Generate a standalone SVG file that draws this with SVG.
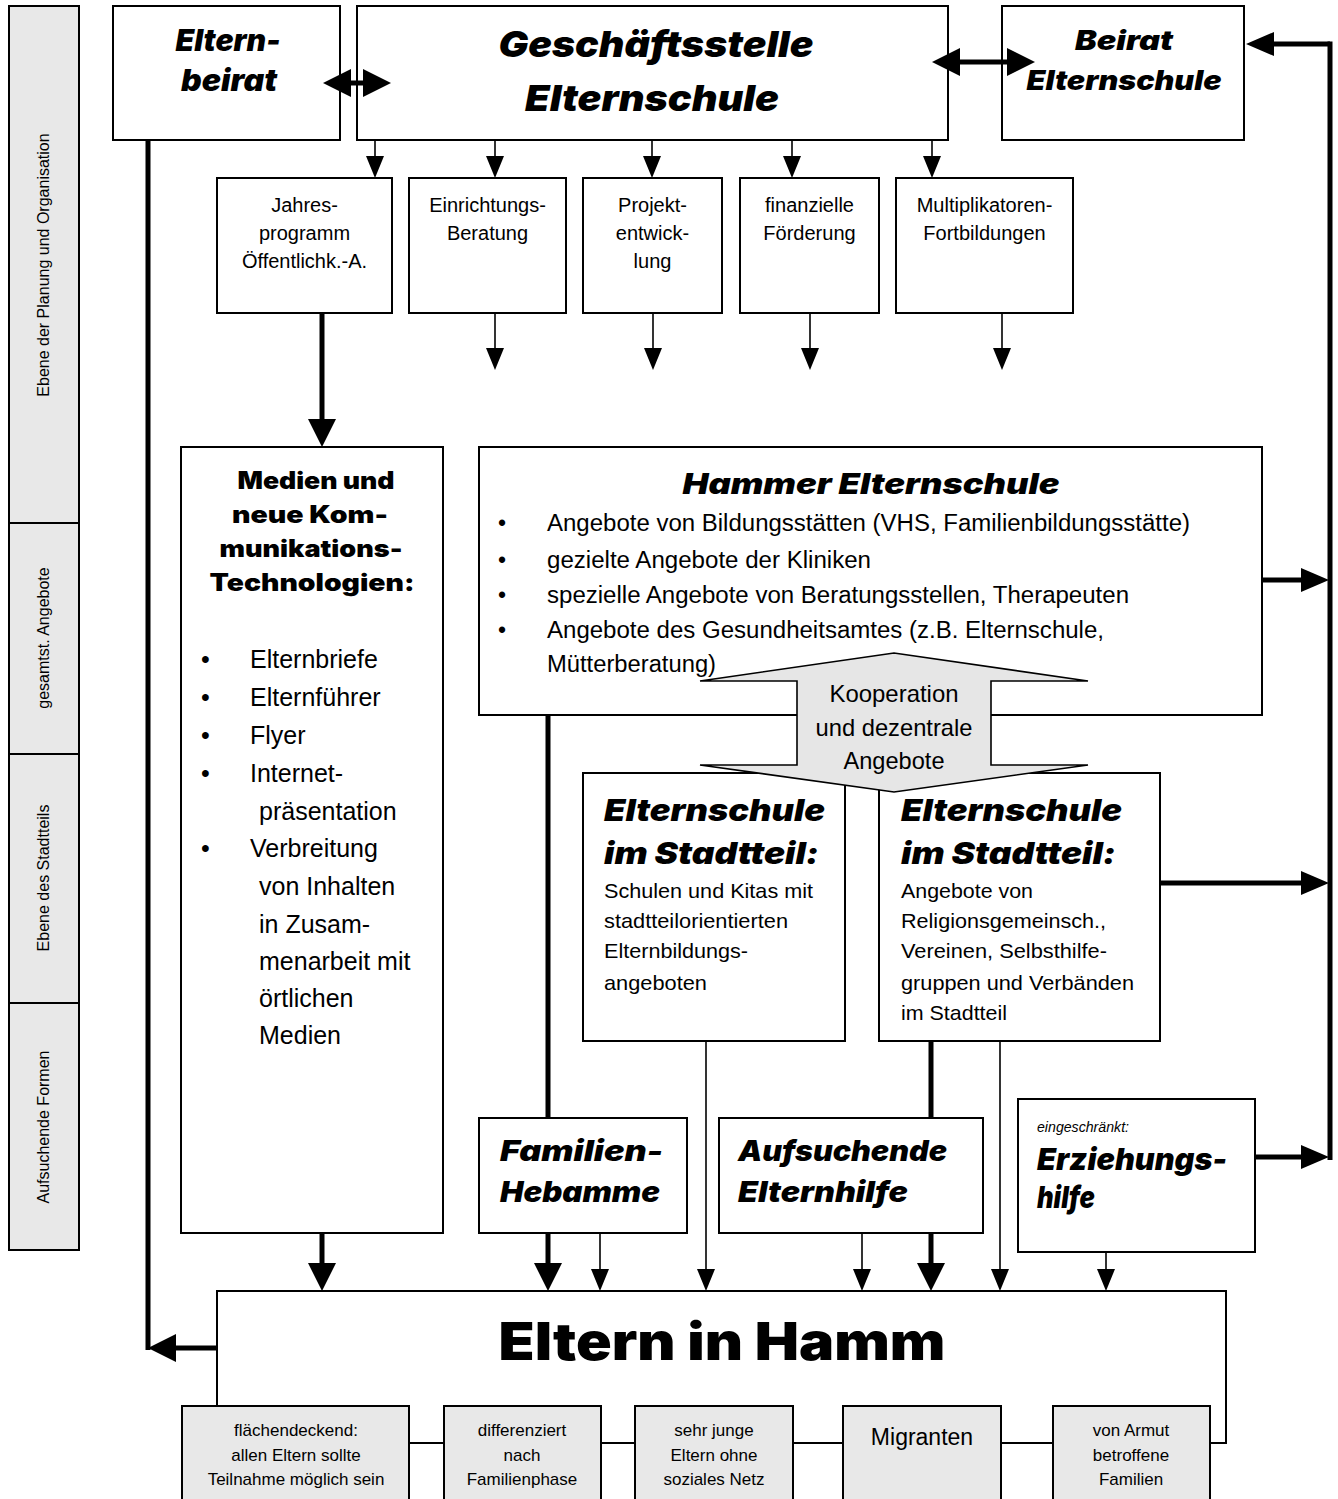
<svg xmlns="http://www.w3.org/2000/svg" width="1338" height="1499" viewBox="0 0 1338 1499">
<style>
.box{fill:#fff;stroke:#000;stroke-width:2}
.gbox{fill:#e8e8e8;stroke:#000;stroke-width:2}
.thin{stroke:#000;stroke-width:1.6;fill:none}
.thick{stroke:#000;stroke-width:5;fill:none}
.reg{font-family:"Liberation Sans",Arial,sans-serif;fill:#000}
.blk{font-family:Inter,Lato,"DejaVu Sans",sans-serif;font-weight:900;fill:#000}
.bi{font-family:Inter,Lato,"DejaVu Sans",sans-serif;font-weight:900;font-style:italic;fill:#000}
.mid{text-anchor:middle}
</style>
<defs>
<marker id="ah" markerUnits="userSpaceOnUse" markerWidth="22" markerHeight="18" refX="0" refY="9" orient="auto"><path d="M0,0 L22,9 L0,18 z" fill="#000"/></marker>
<marker id="AH" markerUnits="userSpaceOnUse" markerWidth="28" markerHeight="28" refX="0" refY="14" orient="auto-start-reverse"><path d="M0,0 L28,14 L0,28 z" fill="#000"/></marker>
<marker id="AH2" markerUnits="userSpaceOnUse" markerWidth="28" markerHeight="24" refX="0" refY="12" orient="auto-start-reverse"><path d="M0,0 L28,12 L0,24 z" fill="#000"/></marker>
</defs>

<g id="sidebar">
<rect class="gbox" x="9" y="6" width="70" height="517"/>
<rect class="gbox" x="9" y="523" width="70" height="231"/>
<rect class="gbox" x="9" y="754" width="70" height="249"/>
<rect class="gbox" x="9" y="1003" width="70" height="247"/>
<text class="reg mid" font-size="16" transform="translate(49,265) rotate(-90)">Ebene der Planung und Organisation</text>
<text class="reg mid" font-size="16" transform="translate(49,638) rotate(-90)">gesamtst. Angebote</text>
<text class="reg mid" font-size="16" transform="translate(49,878) rotate(-90)">Ebene des Stadtteils</text>
<text class="reg mid" font-size="16" transform="translate(49,1127) rotate(-90)">Aufsuchende Formen</text>
</g>

<g id="elternbeirat">
<rect class="box" x="113" y="6" width="227" height="134"/>
<text class="bi mid" font-size="30" x="228" y="51" textLength="105" lengthAdjust="spacingAndGlyphs">Eltern-</text>
<text class="bi mid" font-size="30" x="229" y="91" textLength="96" lengthAdjust="spacingAndGlyphs">beirat</text>
</g>

<g id="geschaeftsstelle">
<rect class="box" x="357" y="6" width="591" height="134"/>
<text class="bi mid" font-size="36" x="656" y="57" textLength="315" lengthAdjust="spacingAndGlyphs">Geschäftsstelle</text>
<text class="bi mid" font-size="36" x="652" y="111" textLength="254" lengthAdjust="spacingAndGlyphs">Elternschule</text>
</g>

<g id="beirat">
<rect class="box" x="1002" y="6" width="242" height="134"/>
<text class="bi mid" font-size="27" x="1124" y="50" textLength="98" lengthAdjust="spacingAndGlyphs">Beirat</text>
<text class="bi mid" font-size="27" x="1124" y="90" textLength="195" lengthAdjust="spacingAndGlyphs">Elternschule</text>
</g>

<g id="jahresprogramm">
<rect class="box" x="217" y="178" width="175" height="135"/>
<text class="reg mid" font-size="20" x="304.5" y="212">Jahres-</text>
<text class="reg mid" font-size="20" x="304.5" y="240">programm</text>
<text class="reg mid" font-size="20" x="304.5" y="268">Öffentlichk.-A.</text>
</g>
<g id="einrichtungsberatung">
<rect class="box" x="409" y="178" width="157" height="135"/>
<text class="reg mid" font-size="20" x="487.5" y="212">Einrichtungs-</text>
<text class="reg mid" font-size="20" x="487.5" y="240">Beratung</text>
</g>
<g id="projektentwicklung">
<rect class="box" x="583" y="178" width="139" height="135"/>
<text class="reg mid" font-size="20" x="652.5" y="212">Projekt-</text>
<text class="reg mid" font-size="20" x="652.5" y="240">entwick-</text>
<text class="reg mid" font-size="20" x="652.5" y="268">lung</text>
</g>
<g id="foerderung">
<rect class="box" x="740" y="178" width="139" height="135"/>
<text class="reg mid" font-size="20" x="809.5" y="212">finanzielle</text>
<text class="reg mid" font-size="20" x="809.5" y="240">Förderung</text>
</g>
<g id="fortbildungen">
<rect class="box" x="896" y="178" width="177" height="135"/>
<text class="reg mid" font-size="20" x="984.5" y="212">Multiplikatoren-</text>
<text class="reg mid" font-size="20" x="984.5" y="240">Fortbildungen</text>
</g>

<g id="medien">
<rect class="box" x="181" y="447" width="262" height="786"/>
<text class="blk mid" font-size="24" x="316" y="489" textLength="157" lengthAdjust="spacingAndGlyphs">Medien und</text>
<text class="blk mid" font-size="24" x="310" y="523" textLength="156" lengthAdjust="spacingAndGlyphs">neue Kom-</text>
<text class="blk mid" font-size="24" x="311" y="557" textLength="183" lengthAdjust="spacingAndGlyphs">munikations-</text>
<text class="blk mid" font-size="24" x="312" y="591" textLength="205" lengthAdjust="spacingAndGlyphs">Technologien:</text>
<g class="reg" font-size="25">
<text x="201" y="668">•</text><text x="250" y="668">Elternbriefe</text>
<text x="201" y="706">•</text><text x="250" y="706">Elternführer</text>
<text x="201" y="744">•</text><text x="250" y="744">Flyer</text>
<text x="201" y="782">•</text><text x="250" y="782">Internet-</text>
<text x="259" y="820">präsentation</text>
<text x="201" y="857">•</text><text x="250" y="857">Verbreitung</text>
<text x="259" y="895">von Inhalten</text>
<text x="259" y="933">in Zusam-</text>
<text x="259" y="970">menarbeit mit</text>
<text x="259" y="1007">örtlichen</text>
<text x="259" y="1044">Medien</text>
</g>
</g>

<g id="hammer-elternschule">
<rect class="box" x="479" y="447" width="783" height="268"/>
<text class="bi mid" font-size="28" x="871" y="494" textLength="377" lengthAdjust="spacingAndGlyphs">Hammer Elternschule</text>
<g class="reg" font-size="23">
<text x="498" y="531">•</text><text x="547" y="531" textLength="643" lengthAdjust="spacingAndGlyphs">Angebote von Bildungsstätten (VHS, Familienbildungsstätte)</text>
<text x="498" y="568">•</text><text x="547" y="568" textLength="324" lengthAdjust="spacingAndGlyphs">gezielte Angebote der Kliniken</text>
<text x="498" y="603">•</text><text x="547" y="603" textLength="582" lengthAdjust="spacingAndGlyphs">spezielle Angebote von Beratungsstellen, Therapeuten</text>
<text x="498" y="638">•</text><text x="547" y="638" textLength="557" lengthAdjust="spacingAndGlyphs">Angebote des Gesundheitsamtes (z.B. Elternschule,</text>
<text x="547" y="672" textLength="169" lengthAdjust="spacingAndGlyphs">Mütterberatung)</text>
</g>
</g>

<g id="elternschule-stadtteil-1">
<rect class="box" x="583" y="773" width="262" height="268"/>
<text class="bi" font-size="30" x="604" y="821" textLength="221" lengthAdjust="spacingAndGlyphs">Elternschule</text>
<text class="bi" font-size="30" x="604" y="864" textLength="215" lengthAdjust="spacingAndGlyphs">im Stadtteil:</text>
<g class="reg" font-size="21">
<text x="604" y="898" textLength="209" lengthAdjust="spacingAndGlyphs">Schulen und Kitas mit</text>
<text x="604" y="928" textLength="184" lengthAdjust="spacingAndGlyphs">stadtteilorientierten</text>
<text x="604" y="958" textLength="144" lengthAdjust="spacingAndGlyphs">Elternbildungs-</text>
<text x="604" y="990" textLength="103" lengthAdjust="spacingAndGlyphs">angeboten</text>
</g>
</g>

<g id="elternschule-stadtteil-2">
<rect class="box" x="879" y="773" width="281" height="268"/>
<text class="bi" font-size="30" x="901" y="821" textLength="221" lengthAdjust="spacingAndGlyphs">Elternschule</text>
<text class="bi" font-size="30" x="901" y="864" textLength="215" lengthAdjust="spacingAndGlyphs">im Stadtteil:</text>
<g class="reg" font-size="21">
<text x="901" y="898" textLength="132" lengthAdjust="spacingAndGlyphs">Angebote von</text>
<text x="901" y="928" textLength="205" lengthAdjust="spacingAndGlyphs">Religionsgemeinsch.,</text>
<text x="901" y="958" textLength="206" lengthAdjust="spacingAndGlyphs">Vereinen, Selbsthilfe-</text>
<text x="901" y="990" textLength="233" lengthAdjust="spacingAndGlyphs">gruppen und Verbänden</text>
<text x="901" y="1020" textLength="106" lengthAdjust="spacingAndGlyphs">im Stadtteil</text>
</g>
</g>

<g id="familien-hebamme">
<rect class="box" x="479" y="1118" width="208" height="115"/>
<text class="bi" font-size="28" x="500" y="1161" textLength="163" lengthAdjust="spacingAndGlyphs">Familien-</text>
<text class="bi" font-size="28" x="500" y="1202" textLength="160" lengthAdjust="spacingAndGlyphs">Hebamme</text>
</g>

<g id="aufsuchende-elternhilfe">
<rect class="box" x="719" y="1118" width="264" height="115"/>
<text class="bi" font-size="28" x="738" y="1161" textLength="209" lengthAdjust="spacingAndGlyphs">Aufsuchende</text>
<text class="bi" font-size="28" x="738" y="1202" textLength="170" lengthAdjust="spacingAndGlyphs">Elternhilfe</text>
</g>

<g id="erziehungshilfe">
<rect class="box" x="1018" y="1099" width="237" height="153"/>
<text class="reg" font-size="15" font-style="italic" x="1037" y="1132" textLength="92" lengthAdjust="spacingAndGlyphs">eingeschränkt:</text>
<text class="bi" font-size="30" x="1037" y="1170" textLength="190" lengthAdjust="spacingAndGlyphs">Erziehungs-</text>
<text class="bi" font-size="30" x="1037" y="1208" textLength="58" lengthAdjust="spacingAndGlyphs">hilfe</text>
</g>

<g id="eltern-in-hamm">
<rect class="box" x="217" y="1291" width="1009" height="152"/>
<text class="blk mid" font-size="52" x="722" y="1360" textLength="447" lengthAdjust="spacingAndGlyphs">Eltern in Hamm</text>
</g>

<g id="zielgruppen">
<rect class="gbox" x="182" y="1406" width="227" height="110"/>
<rect class="gbox" x="444" y="1406" width="157" height="110"/>
<rect class="gbox" x="635" y="1406" width="158" height="110"/>
<rect class="gbox" x="843" y="1406" width="158" height="110"/>
<rect class="gbox" x="1053" y="1406" width="157" height="110"/>
<g class="reg mid" font-size="17">
<text x="296" y="1436">flächendeckend:</text>
<text x="296" y="1461">allen Eltern sollte</text>
<text x="296" y="1485">Teilnahme möglich sein</text>
<text x="522" y="1436">differenziert</text>
<text x="522" y="1461">nach</text>
<text x="522" y="1485">Familienphase</text>
<text x="714" y="1436">sehr junge</text>
<text x="714" y="1461">Eltern ohne</text>
<text x="714" y="1485">soziales Netz</text>
<text x="922" y="1445" font-size="23">Migranten</text>
<text x="1131" y="1436">von Armut</text>
<text x="1131" y="1461">betroffene</text>
<text x="1131" y="1485">Familien</text>
</g>
</g>

<g id="connectors">
<line class="thick" x1="148" y1="140" x2="148" y2="1350"/>
<line class="thick" x1="1330" y1="41.5" x2="1330" y2="1160"/>
<line class="thick" x1="548" y1="715" x2="548" y2="1118"/>
<line class="thick" x1="931" y1="1041" x2="931" y2="1118"/>
<line class="thick" x1="322" y1="313" x2="322" y2="419" marker-end="url(#AH)"/>
<line class="thick" x1="322" y1="1233" x2="322" y2="1263" marker-end="url(#AH)"/>
<line class="thick" x1="548" y1="1233" x2="548" y2="1263" marker-end="url(#AH)"/>
<line class="thick" x1="931" y1="1233" x2="931" y2="1263" marker-end="url(#AH)"/>
<line class="thick" x1="217" y1="1348" x2="176" y2="1348" marker-end="url(#AH)"/>
<line class="thick" x1="1330" y1="44" x2="1274" y2="44" marker-end="url(#AH2)"/>
<line class="thick" x1="1262" y1="580" x2="1301" y2="580" marker-end="url(#AH2)"/>
<line class="thick" x1="1160" y1="883" x2="1301" y2="883" marker-end="url(#AH2)"/>
<line class="thick" x1="1255" y1="1157" x2="1301" y2="1157" marker-end="url(#AH2)"/>
<line class="thick" x1="351" y1="83" x2="363" y2="83" marker-start="url(#AH)" marker-end="url(#AH)"/>
<line class="thick" x1="960" y1="62" x2="1007" y2="62" marker-start="url(#AH)" marker-end="url(#AH)"/>
<line class="thin" x1="375" y1="140" x2="375" y2="156" marker-end="url(#ah)"/>
<line class="thin" x1="495" y1="140" x2="495" y2="156" marker-end="url(#ah)"/>
<line class="thin" x1="652" y1="140" x2="652" y2="156" marker-end="url(#ah)"/>
<line class="thin" x1="792" y1="140" x2="792" y2="156" marker-end="url(#ah)"/>
<line class="thin" x1="932" y1="140" x2="932" y2="156" marker-end="url(#ah)"/>
<line class="thin" x1="495" y1="313" x2="495" y2="348" marker-end="url(#ah)"/>
<line class="thin" x1="653" y1="313" x2="653" y2="348" marker-end="url(#ah)"/>
<line class="thin" x1="810" y1="313" x2="810" y2="348" marker-end="url(#ah)"/>
<line class="thin" x1="1002" y1="313" x2="1002" y2="348" marker-end="url(#ah)"/>
<line class="thin" x1="706" y1="1041" x2="706" y2="1269" marker-end="url(#ah)"/>
<line class="thin" x1="1000" y1="1041" x2="1000" y2="1269" marker-end="url(#ah)"/>
<line class="thin" x1="600" y1="1233" x2="600" y2="1269" marker-end="url(#ah)"/>
<line class="thin" x1="862" y1="1233" x2="862" y2="1269" marker-end="url(#ah)"/>
<line class="thin" x1="1106" y1="1252" x2="1106" y2="1269" marker-end="url(#ah)"/>
</g>

<g id="kooperation">
<polygon points="700,681 894,653 1088,681 991,681 991,765 1088,765 894,792 700,765 797,765 797,681" fill="#e6e6e6" stroke="#000" stroke-width="1.6"/>
<g class="reg mid" font-size="24">
<text x="894" y="702" textLength="129" lengthAdjust="spacingAndGlyphs">Kooperation</text>
<text x="894" y="736" textLength="157" lengthAdjust="spacingAndGlyphs">und dezentrale</text>
<text x="894" y="769" textLength="101" lengthAdjust="spacingAndGlyphs">Angebote</text>
</g>
</g>
</svg>
